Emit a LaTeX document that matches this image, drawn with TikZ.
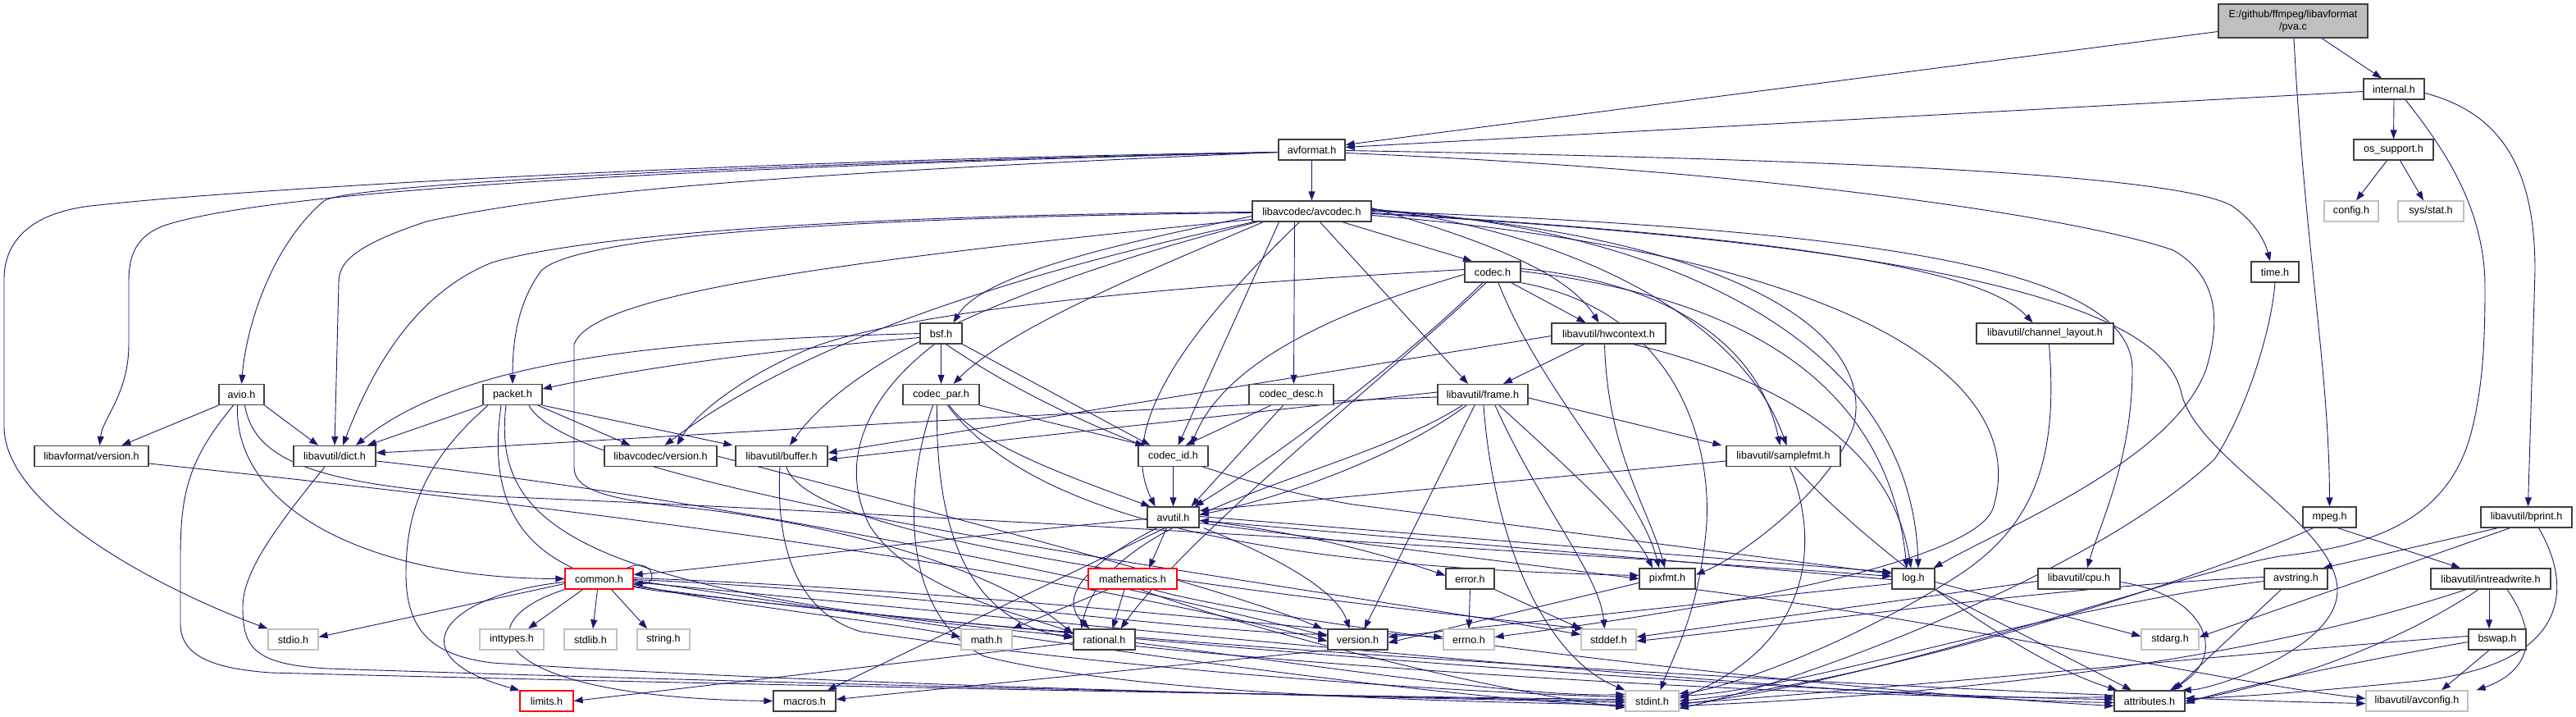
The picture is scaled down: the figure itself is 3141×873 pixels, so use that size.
\documentclass[tikz,border=0pt]{standalone}
\usepackage{fontspec}
\setmainfont{Liberation Sans}
\usetikzlibrary{arrows.meta}
\definecolor{edgeblue}{HTML}{191970}
\definecolor{sysgray}{HTML}{C0C0C0}
\definecolor{bordr}{HTML}{404040}
\definecolor{pvafill}{HTML}{BFBFBF}
\pgfdeclarelayer{bg}
\pgfsetlayers{bg,main}
\tikzset{
  nd/.style={draw=bordr, line width=1.3pt, fill=white, minimum height=25pt, inner sep=0pt, text=black, font=\fontsize{12.6}{14.5}\selectfont},
  sys/.style={nd, draw=sysgray},
  trunc/.style={nd, draw=red},
  dep/.style={draw=edgeblue, line width=0.9pt, -{Triangle[length=11pt,width=8pt]}},
}
\begin{document}
\begin{tikzpicture}[x=1pt,y=-1pt]
\useasboundingbox (0,0) rectangle (3141,873);
% nodes
\node[nd, fill=pvafill, minimum width=182pt, minimum height=41pt, align=center] (pva) at (2796,25.5) {E:/github/ffmpeg/libavformat\\/pva.c};
\node[nd, minimum width=74pt] (internal) at (2919,108.5) {internal.h};
\node[nd, minimum width=81pt] (avformat) at (1599.5,182.5) {avformat.h};
\node[nd, minimum width=97pt] (ossupport) at (2918.5,182.5) {os\_support.h};
\node[sys, minimum width=66pt] (config) at (2867,257.5) {config.h};
\node[sys, minimum width=80pt] (sysstat) at (2964,257.5) {sys/stat.h};
\node[nd, minimum width=145pt] (avcodec) at (1599.5,257.5) {libavcodec/avcodec.h};
\node[nd, minimum width=58pt] (timeh) at (2774,331.5) {time.h};
\node[nd, minimum width=68pt] (codec) at (1820,331.5) {codec.h};
\node[nd, minimum width=51pt] (bsf) at (1147.5,406.5) {bsf.h};
\node[nd, minimum width=139pt] (hwcontext) at (1961.5,406.5) {libavutil/hwcontext.h};
\node[nd, minimum width=167pt] (chlayout) at (2493.5,406.5) {libavutil/channel\_layout.h};
\node[nd, minimum width=55pt] (avio) at (294.5,481) {avio.h};
\node[nd, minimum width=72pt] (packet) at (625,481) {packet.h};
\node[nd, minimum width=93pt] (codecpar) at (1147.5,481) {codec\_par.h};
\node[nd, minimum width=103pt] (codecdesc) at (1574.5,481) {codec\_desc.h};
\node[nd, minimum width=110pt] (frame) at (1808,481) {libavutil/frame.h};
\node[nd, minimum width=139pt] (lavfversion) at (111.5,556) {libavformat/version.h};
\node[nd, minimum width=100pt] (dict) at (408,556) {libavutil/dict.h};
\node[nd, minimum width=137pt] (lavcversion) at (805.5,556) {libavcodec/version.h};
\node[nd, minimum width=112pt] (buffer) at (953,556) {libavutil/buffer.h};
\node[nd, minimum width=85pt] (codecid) at (1430.5,556) {codec\_id.h};
\node[nd, minimum width=139pt] (samplefmt) at (2174.5,556) {libavutil/samplefmt.h};
\node[nd, minimum width=63pt] (avutil) at (1430.5,630.5) {avutil.h};
\node[nd, minimum width=65pt] (mpeg) at (2840.5,630.5) {mpeg.h};
\node[nd, minimum width=111pt] (bprint) at (3080.5,630.5) {libavutil/bprint.h};
\node[trunc, minimum width=83pt] (common) at (730.5,705.5) {common.h};
\node[trunc, minimum width=108pt] (mathematics) at (1381,705.5) {mathematics.h};
\node[nd, minimum width=59pt] (error) at (1792.5,705.5) {error.h};
\node[nd, minimum width=68pt] (pixfmt) at (2033,705.5) {pixfmt.h};
\node[nd, minimum width=52pt] (log) at (2333,705.5) {log.h};
\node[nd, minimum width=100pt] (cpu) at (2535,705.5) {libavutil/cpu.h};
\node[nd, minimum width=77pt] (avstring) at (2799.5,705.5) {avstring.h};
\node[nd, minimum width=146pt] (intreadwrite) at (3037,705.5) {libavutil/intreadwrite.h};
\node[sys, minimum width=61pt] (stdio) at (357.5,779.5) {stdio.h};
\node[sys, minimum width=78pt] (inttypes) at (624,779.5) {inttypes.h};
\node[sys, minimum width=64pt] (stdlib) at (720,779.5) {stdlib.h};
\node[sys, minimum width=64pt] (string) at (809,779.5) {string.h};
\node[sys, minimum width=62pt] (math) at (1203,779.5) {math.h};
\node[nd, minimum width=75pt] (rational) at (1346.5,779.5) {rational.h};
\node[nd, minimum width=73pt] (version) at (1655.5,779.5) {version.h};
\node[sys, minimum width=62pt] (errno) at (1791,779.5) {errno.h};
\node[sys, minimum width=67pt] (stddef) at (1961.5,779.5) {stddef.h};
\node[sys, minimum width=70pt] (stdarg) at (2646,779.5) {stdarg.h};
\node[nd, minimum width=70pt] (bswap) at (3045,779.5) {bswap.h};
\node[trunc, minimum width=65pt] (limits) at (666.5,854.5) {limits.h};
\node[nd, minimum width=76pt] (macros) at (981,854.5) {macros.h};
\node[sys, minimum width=65pt] (stdint) at (2014.5,854.5) {stdint.h};
\node[nd, minimum width=86pt] (attributes) at (2621,854.5) {attributes.h};
\node[sys, minimum width=124pt] (avconfig) at (2947,854.5) {libavutil/avconfig.h};

\begin{pgfonlayer}{bg}
\fill[white] (0,0) rectangle (3141,873);
% pva.c
\draw[dep] ([yshift=-13pt]pva.west) -- ([yshift=6pt]avformat.east);
\draw[dep] ([xshift=35pt]pva.south) -- ([xshift=-15pt]internal.north);
\draw[dep] ([xshift=1pt]pva.south) .. controls (2810,300) and (2840,450) .. (mpeg.north);
% internal.h
\draw[dep] ([yshift=-3pt]internal.west) -- ([yshift=3pt]avformat.east);
\draw[dep] (internal.south) -- (ossupport.north);
\draw[dep] ([xshift=14pt]internal.south) .. controls (2975,175) and (3030,250) .. (3030,350) .. controls (3030,420) and (3027,470) .. (3015,520) .. controls (2990,630) and (2900,665) .. (2780,678) .. controls (2650,700) and (2300,830) .. ([yshift=-4pt]stdint.east);
\draw[dep] ([yshift=-5pt]internal.east) .. controls (3060,140) and (3091,220) .. (3091,330) -- ([xshift=2pt]bprint.north);
% os_support.h
\draw[dep] ([xshift=-8pt]ossupport.south) -- ([xshift=6pt]config.north);
\draw[dep] ([xshift=8pt]ossupport.south) -- ([xshift=-9pt]sysstat.north);
% avformat.h
\draw[dep] (avformat.south) -- (avcodec.north);
\draw[dep] ([yshift=-1pt]avformat.east) .. controls (2300,195) and (2650,215) .. (2720,250) .. controls (2750,270) and (2762,295) .. ([xshift=-6pt]timeh.north);
\draw[dep] ([yshift=-4pt]avformat.east) .. controls (2200,210) and (2550,270) .. (2650,305) .. controls (2710,340) and (2705,400) .. (2690,450) .. controls (2650,560) and (2450,640) .. ([xshift=-2pt]log.north east);
\draw[dep] ([yshift=-3pt]avformat.west) .. controls (900,195) and (300,230) .. (120,250) .. controls (30,258) and (5,300) .. (5,340) -- (5,520) .. controls (5,620) and (200,720) .. (stdio.north west);
\draw[dep] ([yshift=-3pt]avformat.west) .. controls (1000,200) and (350,225) .. (200,275) .. controls (160,290) and (157,320) .. (157,345) -- (157,420) .. controls (157,480) and (125,510) .. ([xshift=10pt]lavfversion.north);
\draw[dep] ([yshift=-3pt]avformat.west) .. controls (900,200) and (420,225) .. (395,245) .. controls (330,300) and (300,400) .. (avio.north);
\draw[dep] ([yshift=-3pt]avformat.west) .. controls (1000,210) and (700,230) .. (520,270) .. controls (430,300) and (413,320) .. (413,345) -- (dict.north);
% avio.h
\draw[dep] (avio.south west) -- ([xshift=37pt]lavfversion.north);
\draw[dep] (avio.south east) -- ([xshift=-20pt]dict.north);
\draw[dep] ([xshift=-5pt]avio.south) .. controls (285,620) and (450,705) .. (common.west);
\draw[dep] ([xshift=4pt]avio.south) .. controls (310,560) and (380,590) .. (600,605) .. controls (1200,630) and (2000,680) .. ([yshift=3pt]log.west);
\draw[dep] ([xshift=-10pt]avio.south) .. controls (230,560) and (220,600) .. (220,680) -- (220,760) .. controls (220,800) and (260,815) .. (330,820) .. controls (900,835) and (1700,850) .. ([yshift=2pt]stdint.west);
% dict.h
\draw[dep] ([xshift=-12pt]dict.south) .. controls (330,650) and (296,700) .. (296,740) .. controls (296,790) and (310,810) .. (400,815) .. controls (1000,835) and (1700,850) .. (stdint.west);
\draw[dep] ([yshift=-6pt]dict.east) .. controls (900,610) and (1400,720) .. ([yshift=4pt]version.west);
% libavformat/version.h
\draw[dep] ([yshift=-9pt]lavfversion.east) .. controls (800,630) and (1300,700) .. ([yshift=-2pt]version.west);
% packet.h
\draw[dep] (packet.south west) -- ([xshift=40pt]dict.north);
\draw[dep] ([xshift=31pt]packet.south) -- ([xshift=-37pt]lavcversion.north);
\draw[dep] (packet.south east) -- ([xshift=-3pt]buffer.north west);
\draw[dep] ([xshift=-30pt]packet.south) .. controls (520,560) and (495,620) .. (495,700) .. controls (495,780) and (540,800) .. (600,808) .. controls (1100,840) and (1800,852) .. ([yshift=-2pt]stdint.west);
\draw[dep] ([xshift=-8pt]packet.south) .. controls (600,640) and (700,720) .. ([yshift=4pt]rational.west);
\draw[dep] ([xshift=-14pt]packet.south) .. controls (590,640) and (660,700) .. (800,720) .. controls (1500,800) and (2300,850) .. ([yshift=2pt]attributes.west);
\draw[dep] ([xshift=20pt]packet.south) .. controls (700,600) and (1500,700) .. ([yshift=6pt]stddef.west);
% libavcodec/version.h
\draw[dep] (lavcversion.east) .. controls (1200,640) and (1500,720) .. ([xshift=-6pt]version.north west);
% buffer.h
\draw[dep] ([xshift=-2pt]buffer.south) .. controls (945,680) and (980,750) .. (1050,770) .. controls (1400,820) and (1800,845) .. ([yshift=5pt]stdint.west);
\draw[dep] ([xshift=6pt]buffer.south) .. controls (980,640) and (1300,700) .. ([xshift=4pt]stddef.north west);
% bsf.h
\draw[dep] (bsf.west) .. controls (800,415) and (560,440) .. ([xshift=26pt]dict.north);
\draw[dep] ([yshift=-5pt]bsf.west) .. controls (900,430) and (750,455) .. ([yshift=7pt]packet.east);
\draw[dep] ([xshift=-8pt]bsf.south) .. controls (1060,480) and (1020,560) .. (1060,640) .. controls (1110,720) and (1250,750) .. ([yshift=8pt]rational.west);
\draw[dep] (bsf.south) -- (codecpar.north);
\draw[dep] (bsf.south east) -- ([xshift=-28pt]codecid.north);
\draw[dep] ([xshift=6pt]bsf.south) .. controls (1300,520) and (1500,590) .. (1650,615) -- ([yshift=6pt]log.west);
% codec_par.h
\draw[dep] ([xshift=-10pt]codecpar.south) .. controls (1100,600) and (1100,750) .. (1200,800) .. controls (1400,850) and (1800,855) .. ([yshift=-5pt]stdint.west);
\draw[dep] ([xshift=-5pt]codecpar.south) .. controls (1140,680) and (1200,760) .. ([yshift=2pt]rational.west);
\draw[dep] ([xshift=10pt]codecpar.south) .. controls (1190,540) and (1300,580) .. ([xshift=4pt]avutil.north west);
\draw[dep] ([xshift=8pt]codecpar.south) .. controls (1250,620) and (1500,690) .. ([yshift=4pt]pixfmt.west);
\draw[dep] (codecpar.south east) -- ([xshift=-35pt]codecid.north);
% codec_desc.h
\draw[dep] ([xshift=-25pt]codecdesc.south) -- ([xshift=15pt]codecid.north);
\draw[dep] ([xshift=-10pt]codecdesc.south) -- ([xshift=22pt]avutil.north);
% codec_id.h
\draw[dep] (codecid.south) -- (avutil.north);
% codec.h
\draw[dep] ([yshift=3pt]codec.west) .. controls (1500,345) and (1150,370) .. (1000,420) .. controls (920,450) and (850,500) .. ([xshift=20pt]lavcversion.north);
\draw[dep] ([yshift=-3pt]codec.west) .. controls (1700,360) and (1500,420) .. ([xshift=22pt]codecid.north);
\draw[dep] ([xshift=-12pt]codec.south) .. controls (1700,450) and (1550,560) .. ([xshift=-6pt]avutil.north east);
\draw[dep] ([xshift=-8pt]codec.south) .. controls (1690,460) and (1450,650) .. ([xshift=20pt]rational.north);
\draw[dep] ([xshift=7pt]codec.south) .. controls (1880,480) and (2000,600) .. ([xshift=-10pt]pixfmt.north);
\draw[dep] ([xshift=-12pt]codec.south east) -- ([xshift=-28pt]hwcontext.north);
\draw[dep] ([yshift=4pt]codec.east) .. controls (2000,340) and (2140,400) .. ([xshift=-4pt]samplefmt.north);
\draw[dep] ([yshift=1pt]codec.east) .. controls (2100,360) and (2300,450) .. ([xshift=-8pt]log.north);
\draw[dep] (codec.south east) .. controls (2050,380) and (2090,550) .. (2080,650) .. controls (2070,750) and (2040,800) .. ([xshift=10pt]stdint.north);
% hwcontext.h
\draw[dep] ([yshift=-3pt]hwcontext.west) -- ([yshift=4pt]buffer.east);
\draw[dep] ([xshift=-30pt]hwcontext.south) -- ([xshift=25pt]frame.north);
\draw[dep] ([xshift=-5pt]hwcontext.south) .. controls (1960,550) and (2010,620) .. ([xshift=-3pt]pixfmt.north);
\draw[dep] ([xshift=30pt]hwcontext.south) .. controls (2200,470) and (2310,560) .. ([xshift=-3pt]log.north);
% frame.h
\draw[dep] ([yshift=3pt]frame.west) -- ([yshift=-4pt]buffer.east);
\draw[dep] ([yshift=-3pt]frame.west) .. controls (1300,500) and (700,540) .. ([yshift=4pt]dict.east);
\draw[dep] ([yshift=-4pt]frame.east) -- ([xshift=-5pt]samplefmt.north west);
\draw[dep] ([xshift=-20pt]frame.south) .. controls (1700,560) and (1550,610) .. ([yshift=3pt]avutil.east);
\draw[dep] ([xshift=-25pt]frame.south) .. controls (1650,580) and (1350,620) .. ([xshift=-28pt]rational.north);
\draw[dep] ([xshift=-10pt]frame.south) -- ([xshift=8pt]version.north);
\draw[dep] ([xshift=1pt]frame.south) .. controls (1820,650) and (1880,800) .. (stdint.north west);
\draw[dep] ([xshift=15pt]frame.south) .. controls (1880,620) and (1950,700) .. ([xshift=-5pt]stddef.north);
\draw[dep] ([xshift=20pt]frame.south) .. controls (1900,560) and (1990,640) .. ([xshift=-18pt]pixfmt.north);
% samplefmt.h
\draw[dep] ([yshift=-6pt]samplefmt.west) -- ([yshift=8pt]avutil.east);
\draw[dep] ([xshift=8pt]samplefmt.south) .. controls (2215,650) and (2220,780) .. ([yshift=3pt]stdint.east);
\draw[dep] ([xshift=14pt]samplefmt.south) .. controls (2260,650) and (2450,800) .. ([xshift=4pt]attributes.north west);
% avcodec.h
\draw[dep] ([yshift=-6pt]avcodec.west) .. controls (1400,290) and (1200,330) .. ([xshift=15pt]bsf.north);
\draw[dep] ([yshift=-2pt]avcodec.west) .. controls (1000,265) and (700,290) .. (660,330) .. controls (630,370) and (625,420) .. (packet.north);
\draw[dep] ([yshift=-1pt]avcodec.west) .. controls (1000,262) and (700,290) .. (600,320) .. controls (500,360) and (450,460) .. ([xshift=10pt]dict.north);
\draw[dep] ([xshift=2pt]avcodec.south west) .. controls (1300,320) and (1000,400) .. ([xshift=5pt]lavcversion.north);
\draw[dep] ([xshift=6pt]avcodec.south west) .. controls (1300,330) and (1050,420) .. ([xshift=10pt]buffer.north);
\draw[dep] ([xshift=14pt]avcodec.south west) .. controls (1400,330) and (1230,400) .. ([xshift=15pt]codecpar.north);
\draw[dep] ([xshift=-21pt]avcodec.south) -- ([xshift=3pt]codecdesc.north);
\draw[dep] ([xshift=-40pt]avcodec.south) -- ([xshift=6pt]codecid.north);
\draw[dep] ([xshift=-15pt]avcodec.south) .. controls (1450,400) and (1360,520) .. ([xshift=-22pt]avutil.north);
\draw[dep] ([yshift=-10pt]avcodec.west) .. controls (1000,320) and (720,360) .. (700,420) -- (700,570) .. controls (700,600) and (750,610) .. (850,620) .. controls (1100,650) and (1250,720) .. ([yshift=6pt]rational.west);
\draw[dep] ([xshift=-36pt]avcodec.south east) -- ([xshift=-25pt]codec.north);
\draw[dep] ([xshift=10pt]avcodec.south) -- ([xshift=-18pt]frame.north);
\draw[dep] ([yshift=4pt]avcodec.east) .. controls (1800,290) and (1910,330) .. ([xshift=-12pt]hwcontext.north);
\draw[dep] ([yshift=3pt]avcodec.east) .. controls (1900,280) and (2120,380) .. ([xshift=4pt]samplefmt.north);
\draw[dep] ([yshift=2pt]avcodec.east) .. controls (2000,275) and (2330,400) .. ([xshift=6pt]log.north);
\draw[dep] ([yshift=1pt]avcodec.east) .. controls (2100,285) and (2290,400) .. (2260,520) .. controls (2230,600) and (2120,680) .. ([yshift=5pt]pixfmt.east);
\draw[dep] (avcodec.east) .. controls (2300,280) and (2600,330) .. (2600,450) .. controls (2600,560) and (2560,640) .. ([xshift=10pt]cpu.north);
\draw[dep] ([yshift=-2pt]avcodec.east) .. controls (2200,290) and (2420,330) .. ([xshift=-15pt]chlayout.north);
\draw[dep] ([yshift=-3pt]avcodec.east) .. controls (2400,300) and (2640,380) .. (2660,480) .. controls (2680,560) and (2850,640) .. (2850,720) .. controls (2850,790) and (2700,840) .. ([xshift=-4pt]attributes.north east);
\draw[dep] ([yshift=-5pt]avcodec.east) .. controls (2250,310) and (2480,460) .. (2430,620) .. controls (2400,700) and (1950,760) .. ([yshift=3pt]errno.east);
% avutil.h
\draw[dep] ([yshift=-2pt]avutil.west) .. controls (1100,660) and (900,690) .. ([yshift=5pt]common.east);
\draw[dep] ([xshift=-10pt]avutil.south) -- ([xshift=28pt]macros.north);
\draw[dep] ([xshift=-20pt]avutil.south) .. controls (1320,690) and (1290,730) .. ([xshift=-18pt]rational.north);
\draw[dep] ([xshift=-8pt]avutil.south) -- ([xshift=20pt]mathematics.north);
\draw[dep] ([yshift=-4pt]avutil.east) .. controls (1600,650) and (1700,680) .. ([yshift=4pt]error.west);
\draw[dep] ([xshift=5pt]avutil.south east) .. controls (1560,680) and (1630,720) .. ([xshift=-10pt]version.north);
\draw[dep] ([yshift=1pt]avutil.east) -- ([yshift=8pt]log.west);
\draw[dep] ([yshift=-7pt]avutil.east) -- (pixfmt.west);
% log.h
\draw[dep] ([yshift=-1pt]log.west) -- ([yshift=-4pt]avutil.east);
\draw[dep] ([yshift=-6pt]log.west) -- ([yshift=3pt]version.east);
\draw[dep] ([yshift=-4pt]log.east) -- ([yshift=4pt]stdarg.west);
\draw[dep] (log.south east) -- ([xshift=-22pt]attributes.north);
% common.h
\draw[dep] ([xshift=-8pt]common.north east) .. controls (795,678) and (805,712) .. ([yshift=-6pt]common.east);
\draw[dep] ([yshift=-6pt]common.west) -- ([yshift=3pt]stdio.east);
\draw[dep] ([xshift=-20pt]common.south) -- ([xshift=20pt]inttypes.north);
\draw[dep] ([xshift=-2pt]common.south) -- ([xshift=3pt]stdlib.north);
\draw[dep] ([xshift=15pt]common.south) -- ([xshift=-20pt]string.north);
\draw[dep] ([yshift=-7pt]common.east) .. controls (900,740) and (1100,760) .. ([yshift=3pt]math.west);
\draw[dep] ([yshift=-4pt]common.west) .. controls (540,725) and (480,800) .. (limits.north west);
\draw[dep] (common.south west) .. controls (560,760) and (600,850) .. (macros.west);
\draw[dep] ([yshift=-2pt]common.east) .. controls (1000,740) and (1700,850) .. ([yshift=-6pt]stdint.west);
\draw[dep] ([yshift=-4pt]common.east) .. controls (1200,750) and (2200,850) .. ([yshift=-2pt]attributes.west);
\draw[dep] ([yshift=-1pt]common.east) .. controls (1100,720) and (1450,770) .. ([yshift=6pt]version.west);
\draw[dep] ([yshift=1pt]common.east) .. controls (1200,720) and (1600,770) .. ([yshift=3pt]errno.west);
\draw[dep] ([yshift=-9pt]common.east) .. controls (1300,790) and (2500,850) .. ([yshift=-3pt]avconfig.west);
% mathematics.h
\draw[dep] ([xshift=-30pt]mathematics.south) -- (math.north east);
\draw[dep] ([xshift=-10pt]mathematics.south) -- ([xshift=10pt]rational.north);
\draw[dep] ([xshift=10pt]mathematics.south) .. controls (1500,760) and (1800,840) .. ([yshift=-8pt]stdint.west);
\draw[dep] ([xshift=25pt]mathematics.south) .. controls (1550,760) and (2200,840) .. ([yshift=-6pt]attributes.west);
% error.h
\draw[dep] (error.south) -- (errno.north);
\draw[dep] (error.south east) -- (stddef.north west);
% pixfmt.h
\draw[dep] ([yshift=-5pt]pixfmt.west) -- ([yshift=-4pt]version.east);
\draw[dep] (pixfmt.south east) .. controls (2400,760) and (2700,830) .. ([yshift=3pt]avconfig.west);
% cpu.h
\draw[dep] ([yshift=-3pt]cpu.west) -- ([yshift=3pt]stddef.east);
\draw[dep] ([yshift=-4pt]cpu.east) .. controls (2690,725) and (2720,800) .. ([xshift=25pt]attributes.north);
% avstring.h
\draw[dep] ([yshift=2pt]avstring.west) .. controls (2500,715) and (2200,760) .. ([yshift=-2pt]stddef.east);
\draw[dep] ([yshift=-3pt]avstring.west) .. controls (2500,740) and (2200,840) .. ([yshift=6pt]stdint.east);
\draw[dep] ([xshift=-18pt]avstring.south) -- ([xshift=-14pt]attributes.north east);
% bprint.h
\draw[dep] ([xshift=-35pt]bprint.south) -- ([xshift=-6pt]avstring.north east);
\draw[dep] ([xshift=-20pt]bprint.south) -- ([yshift=3pt]stdarg.east);
\draw[dep] ([xshift=15pt]bprint.south) .. controls (3140,720) and (3130,810) .. (2950,830) .. controls (2800,845) and (2720,850) .. ([yshift=3pt]attributes.east);
% mpeg.h
\draw[dep] ([xshift=-20pt]mpeg.south) .. controls (2700,700) and (2300,830) .. ([yshift=0pt]stdint.east);
\draw[dep] ([xshift=10pt]mpeg.south) -- ([xshift=-37pt]intreadwrite.north);
% intreadwrite.h
\draw[dep] ([xshift=-30pt]intreadwrite.south) .. controls (2700,820) and (2300,850) .. ([yshift=-6pt]stdint.east);
\draw[dep] ([xshift=-15pt]intreadwrite.south) .. controls (2900,800) and (2750,840) .. ([yshift=0pt]attributes.east);
\draw[dep] ([xshift=-2pt]intreadwrite.south) -- ([xshift=-10pt]bswap.north);
\draw[dep] ([xshift=20pt]intreadwrite.south) .. controls (3100,780) and (3080,820) .. ([xshift=10pt]avconfig.north east);
% bswap.h
\draw[dep] ([yshift=4pt]bswap.west) .. controls (2800,790) and (2300,840) .. ([yshift=-3pt]stdint.east);
\draw[dep] ([yshift=-3pt]bswap.west) .. controls (2850,810) and (2700,845) .. ([yshift=-3pt]attributes.east);
\draw[dep] ([xshift=-10pt]bswap.south) -- ([xshift=30pt]avconfig.north);
% channel_layout.h / time.h
\draw[dep] ([xshift=5pt]chlayout.south) .. controls (2510,560) and (2480,640) .. (2390,700) .. controls (2250,790) and (2100,840) .. ([yshift=9pt]stdint.east);
\draw[dep] (timeh.south) .. controls (2770,400) and (2740,500) .. (2700,560) .. controls (2550,700) and (2200,830) .. ([yshift=-9pt]stdint.east);
% version.h, rational.h
\draw[dep] (version.south west) -- ([yshift=2pt]macros.east);
\draw[dep] ([yshift=-4pt]rational.west) -- (limits.east);
\draw[dep] ([yshift=-4pt]rational.east) .. controls (1600,810) and (1850,850) .. ([yshift=8pt]stdint.west);
\draw[dep] ([yshift=-8pt]rational.east) .. controls (1700,820) and (2300,855) .. ([yshift=5pt]attributes.west);
\end{pgfonlayer}
\end{tikzpicture}
\end{document}
